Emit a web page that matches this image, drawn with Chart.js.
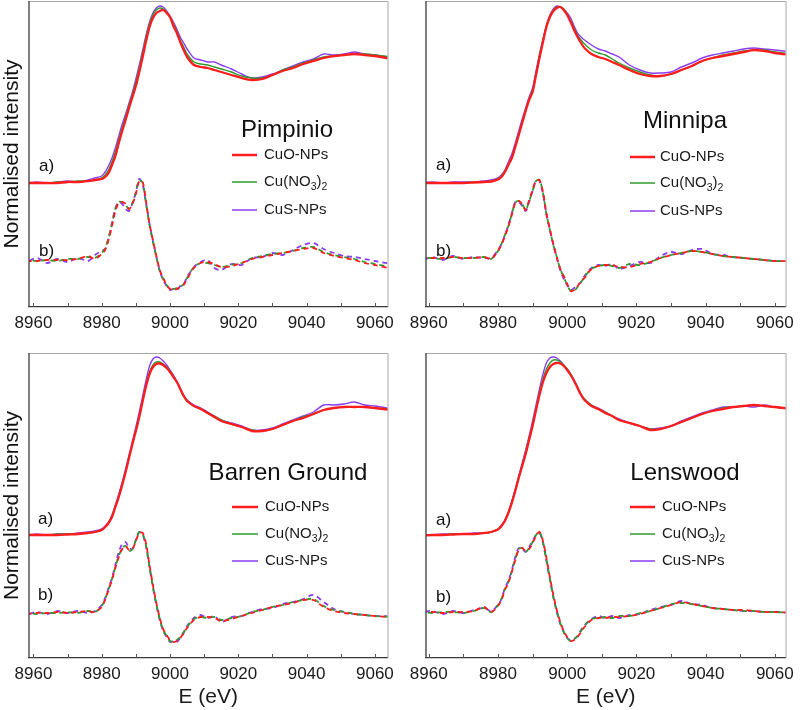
<!DOCTYPE html>
<html>
<head>
<meta charset="utf-8">
<script src="https://cdn.jsdelivr.net/npm/chart.js@4.4.1/dist/chart.umd.min.js"></script>
<style>
  body { margin: 0; background: #fff; width: 800px; height: 710px; position: relative; overflow: hidden; }
  canvas { position: absolute; }
</style>
</head>
<body>
<canvas id="pimpinio" width="400" height="340" style="left:0;top:0"></canvas>
<canvas id="minnipa" width="400" height="340" style="left:400px;top:0"></canvas>
<canvas id="barren" width="400" height="370" style="left:0;top:340px"></canvas>
<canvas id="lenswood" width="400" height="370" style="left:400px;top:340px"></canvas>
<script>
//photon energy (eV), shared by every curve
const energy = [8958, 8961, 8964, 8967, 8970, 8973, 8976, 8978,
  8980, 8981, 8982, 8983, 8984, 8985, 8986, 8987, 8988, 8989, 8990, 8991, 8992, 8993,
  8994, 8995, 8996, 8997, 8998, 8999, 9000, 9001, 9002, 9003, 9004, 9005,
  9007, 9009, 9011, 9013, 9015,
  9018, 9021, 9024, 9027, 9030, 9033, 9036, 9039, 9042, 9045, 9048, 9051, 9054, 9057, 9060, 9065];

const tickValues = [8960, 8980, 9000, 9020, 9040, 9060];
const minorTickValues = [8960, 8970, 8980, 8990, 9000, 9010, 9020, 9030, 9040, 9050, 9060];
const seriesNames = ['CuO-NPs', 'Cu(NO3)2', 'CuS-NPs'];
const siteNames = ['Pimpinio', 'Minnipa', 'Barren Ground', 'Lenswood'];

//a) XANES spectra (offset, normalised)
const pimpXanesCuO = [1.24,1.24,1.24,1.24,1.25,1.25,1.26,1.27,1.28,1.30,1.34,1.42,1.51,1.64,1.76,1.87,1.99,2.10,2.21,2.35,2.50,2.66,2.80,2.89,2.94,2.96,2.97,2.94,2.90,2.81,2.74,2.65,2.57,2.50,2.42,2.40,2.39,2.37,2.35,2.32,2.29,2.27,2.28,2.32,2.36,2.39,2.43,2.46,2.49,2.51,2.52,2.53,2.52,2.51,2.48];
const pimpXanesNO3 = [1.24,1.24,1.24,1.25,1.25,1.26,1.26,1.27,1.29,1.32,1.37,1.45,1.55,1.67,1.79,1.90,2.02,2.13,2.25,2.39,2.54,2.70,2.83,2.92,2.97,2.99,2.98,2.95,2.90,2.83,2.76,2.67,2.60,2.53,2.45,2.43,2.42,2.40,2.38,2.35,2.31,2.29,2.29,2.32,2.37,2.40,2.44,2.47,2.50,2.51,2.52,2.53,2.53,2.52,2.50];
const pimpXanesCuS = [1.24,1.25,1.24,1.25,1.26,1.25,1.27,1.29,1.31,1.35,1.41,1.49,1.59,1.71,1.83,1.93,2.04,2.15,2.28,2.42,2.57,2.72,2.85,2.94,2.99,3.01,3.00,2.96,2.91,2.85,2.78,2.70,2.64,2.58,2.49,2.47,2.45,2.45,2.42,2.38,2.33,2.29,2.30,2.33,2.37,2.41,2.45,2.48,2.53,2.52,2.53,2.55,2.53,2.52,2.49];

const minnXanesCuO = [1.24,1.24,1.24,1.24,1.24,1.245,1.25,1.255,1.275,1.30,1.35,1.42,1.49,1.60,1.72,1.84,1.96,2.07,2.15,2.32,2.49,2.65,2.80,2.90,2.96,2.99,3.00,2.97,2.92,2.85,2.77,2.70,2.64,2.59,2.53,2.50,2.48,2.45,2.42,2.37,2.33,2.31,2.31,2.33,2.37,2.41,2.46,2.49,2.51,2.53,2.55,2.57,2.56,2.54,2.52];
const minnXanesNO3 = [1.24,1.24,1.24,1.24,1.24,1.25,1.25,1.26,1.28,1.31,1.36,1.43,1.50,1.61,1.73,1.85,1.97,2.08,2.17,2.34,2.51,2.67,2.81,2.91,2.97,3.00,3.00,2.98,2.93,2.86,2.79,2.72,2.67,2.63,2.57,2.54,2.52,2.48,2.44,2.39,2.35,2.32,2.31,2.33,2.37,2.41,2.46,2.49,2.52,2.54,2.56,2.57,2.57,2.55,2.53];
const minnXanesCuS = [1.24,1.25,1.24,1.25,1.25,1.25,1.26,1.27,1.29,1.32,1.37,1.45,1.53,1.64,1.76,1.88,1.99,2.10,2.19,2.36,2.53,2.68,2.82,2.92,2.98,3.01,3.00,2.98,2.94,2.89,2.81,2.74,2.70,2.67,2.62,2.58,2.56,2.53,2.50,2.42,2.37,2.34,2.34,2.35,2.40,2.44,2.49,2.52,2.54,2.56,2.58,2.59,2.58,2.57,2.55];

const barrXanesCuO = [1.23,1.23,1.23,1.23,1.235,1.24,1.25,1.26,1.28,1.31,1.35,1.41,1.51,1.61,1.73,1.86,2.00,2.14,2.27,2.41,2.57,2.72,2.84,2.91,2.94,2.945,2.93,2.90,2.86,2.81,2.76,2.69,2.62,2.57,2.52,2.49,2.45,2.41,2.37,2.34,2.31,2.27,2.27,2.29,2.33,2.37,2.40,2.44,2.48,2.50,2.51,2.51,2.51,2.50,2.48];
const barrXanesNO3 = [1.23,1.23,1.23,1.24,1.24,1.24,1.25,1.26,1.28,1.31,1.35,1.42,1.52,1.62,1.74,1.87,2.01,2.15,2.28,2.42,2.58,2.73,2.86,2.93,2.96,2.96,2.94,2.91,2.87,2.82,2.76,2.69,2.62,2.57,2.52,2.49,2.45,2.42,2.38,2.34,2.31,2.28,2.27,2.29,2.33,2.37,2.41,2.44,2.48,2.50,2.51,2.51,2.51,2.50,2.48];
const barrXanesCuS = [1.23,1.24,1.23,1.24,1.24,1.25,1.26,1.27,1.29,1.32,1.36,1.43,1.53,1.64,1.76,1.89,2.03,2.17,2.31,2.46,2.62,2.78,2.92,2.99,3.01,3.00,2.97,2.93,2.88,2.83,2.77,2.70,2.63,2.58,2.53,2.50,2.46,2.42,2.38,2.35,2.32,2.28,2.28,2.30,2.34,2.38,2.42,2.46,2.53,2.53,2.54,2.56,2.53,2.52,2.49];

const lensXanesCuO = [1.225,1.23,1.23,1.235,1.24,1.24,1.25,1.26,1.285,1.32,1.37,1.45,1.55,1.67,1.80,1.92,2.04,2.18,2.32,2.48,2.63,2.76,2.85,2.91,2.94,2.95,2.945,2.92,2.88,2.83,2.77,2.70,2.63,2.58,2.52,2.49,2.45,2.42,2.38,2.35,2.32,2.28,2.29,2.32,2.36,2.40,2.44,2.47,2.49,2.51,2.52,2.53,2.52,2.51,2.49];
const lensXanesNO3 = [1.23,1.23,1.23,1.24,1.24,1.24,1.25,1.26,1.29,1.32,1.38,1.46,1.56,1.68,1.81,1.93,2.06,2.20,2.34,2.50,2.65,2.79,2.89,2.95,2.98,2.98,2.96,2.93,2.89,2.84,2.78,2.71,2.64,2.59,2.53,2.49,2.46,2.42,2.38,2.35,2.32,2.29,2.29,2.32,2.36,2.40,2.44,2.47,2.50,2.51,2.52,2.53,2.52,2.51,2.49];
const lensXanesCuS = [1.23,1.23,1.24,1.24,1.24,1.25,1.25,1.26,1.29,1.33,1.38,1.46,1.57,1.69,1.82,1.95,2.08,2.22,2.37,2.53,2.69,2.84,2.95,3.00,3.01,3.00,2.97,2.93,2.89,2.84,2.78,2.71,2.64,2.59,2.53,2.50,2.46,2.42,2.39,2.35,2.32,2.29,2.30,2.32,2.37,2.41,2.45,2.48,2.51,2.51,2.52,2.51,2.53,2.51,2.49];

//b) first derivatives (offset)
const pimpDerivCuO = [0.46,0.46,0.47,0.47,0.47,0.48,0.51,0.48,0.53,0.57,0.67,0.81,0.96,1.04,1.05,1.03,0.98,1.03,1.13,1.26,1.25,1.05,0.83,0.67,0.51,0.37,0.29,0.22,0.18,0.17,0.18,0.20,0.22,0.28,0.39,0.44,0.45,0.43,0.40,0.41,0.44,0.48,0.50,0.52,0.54,0.56,0.58,0.59,0.54,0.51,0.49,0.47,0.44,0.42,0.38];
const pimpDerivNO3 = [0.47,0.46,0.47,0.46,0.48,0.48,0.50,0.49,0.54,0.59,0.69,0.83,0.98,1.05,1.05,1.02,0.98,1.04,1.14,1.27,1.24,1.03,0.82,0.65,0.50,0.36,0.28,0.22,0.18,0.18,0.19,0.20,0.23,0.29,0.40,0.44,0.44,0.42,0.40,0.42,0.44,0.49,0.51,0.53,0.54,0.56,0.59,0.60,0.55,0.52,0.50,0.48,0.45,0.43,0.40];
const pimpDerivCuS = [0.45,0.49,0.44,0.48,0.45,0.49,0.46,0.52,0.56,0.58,0.69,0.84,0.99,1.05,1.03,0.98,0.96,1.04,1.15,1.28,1.22,1.03,0.83,0.66,0.50,0.36,0.27,0.21,0.17,0.18,0.17,0.21,0.23,0.30,0.40,0.45,0.47,0.39,0.37,0.43,0.42,0.49,0.50,0.54,0.52,0.57,0.62,0.64,0.58,0.54,0.51,0.50,0.48,0.46,0.43];

const minnDerivCuO = [0.49,0.49,0.49,0.50,0.49,0.49,0.50,0.48,0.56,0.62,0.71,0.80,0.92,1.04,1.06,1.03,0.97,1.07,1.17,1.26,1.27,1.15,0.94,0.78,0.63,0.50,0.38,0.31,0.23,0.16,0.17,0.21,0.25,0.29,0.38,0.41,0.42,0.42,0.40,0.40,0.43,0.45,0.49,0.52,0.54,0.56,0.55,0.53,0.51,0.50,0.49,0.48,0.47,0.46,0.46];
const minnDerivNO3 = [0.49,0.49,0.48,0.50,0.49,0.49,0.50,0.48,0.56,0.63,0.72,0.81,0.93,1.04,1.06,1.03,0.97,1.06,1.16,1.26,1.27,1.14,0.93,0.77,0.62,0.50,0.38,0.30,0.22,0.16,0.16,0.20,0.25,0.30,0.38,0.41,0.42,0.41,0.39,0.43,0.42,0.45,0.49,0.52,0.54,0.56,0.55,0.53,0.51,0.50,0.49,0.48,0.47,0.46,0.46];
const minnDerivCuS = [0.46,0.50,0.47,0.51,0.48,0.50,0.49,0.49,0.57,0.63,0.72,0.82,0.94,1.05,1.05,1.01,0.96,1.05,1.16,1.27,1.26,1.13,0.92,0.77,0.62,0.49,0.37,0.28,0.22,0.17,0.19,0.22,0.25,0.31,0.39,0.42,0.41,0.43,0.38,0.41,0.45,0.44,0.51,0.55,0.53,0.57,0.58,0.53,0.52,0.50,0.49,0.48,0.47,0.46,0.46];

const barrDerivCuO = [0.44,0.45,0.45,0.46,0.45,0.46,0.47,0.46,0.51,0.58,0.68,0.78,0.90,1.01,1.09,1.12,1.08,1.09,1.17,1.25,1.25,1.14,0.93,0.73,0.55,0.40,0.29,0.23,0.18,0.16,0.17,0.20,0.25,0.30,0.38,0.41,0.41,0.40,0.37,0.39,0.42,0.45,0.48,0.51,0.53,0.55,0.58,0.58,0.51,0.47,0.45,0.44,0.43,0.42,0.41];
const barrDerivNO3 = [0.45,0.44,0.45,0.45,0.46,0.45,0.47,0.46,0.52,0.59,0.69,0.79,0.91,1.02,1.10,1.12,1.07,1.09,1.18,1.26,1.24,1.12,0.91,0.71,0.54,0.39,0.28,0.22,0.17,0.16,0.18,0.21,0.26,0.31,0.39,0.41,0.40,0.41,0.38,0.40,0.42,0.46,0.48,0.51,0.53,0.56,0.58,0.59,0.52,0.48,0.46,0.44,0.43,0.42,0.41];
const barrDerivCuS = [0.43,0.46,0.44,0.47,0.45,0.47,0.45,0.47,0.53,0.60,0.70,0.80,0.93,1.06,1.14,1.16,1.10,1.09,1.18,1.26,1.23,1.11,0.91,0.71,0.53,0.38,0.27,0.21,0.16,0.17,0.16,0.20,0.25,0.32,0.40,0.43,0.40,0.42,0.36,0.41,0.42,0.46,0.49,0.50,0.54,0.56,0.59,0.63,0.56,0.49,0.46,0.44,0.43,0.42,0.42];

const lensDerivCuO = [0.46,0.46,0.45,0.46,0.46,0.47,0.51,0.46,0.52,0.58,0.68,0.75,0.86,0.98,1.08,1.10,1.07,1.09,1.15,1.22,1.26,1.17,1.00,0.81,0.63,0.48,0.36,0.27,0.21,0.17,0.18,0.21,0.26,0.31,0.38,0.40,0.40,0.41,0.41,0.42,0.44,0.47,0.50,0.53,0.56,0.54,0.52,0.50,0.49,0.48,0.48,0.47,0.46,0.46,0.45];
const lensDerivNO3 = [0.46,0.45,0.46,0.46,0.45,0.47,0.50,0.46,0.53,0.59,0.69,0.76,0.87,0.99,1.09,1.10,1.06,1.10,1.16,1.23,1.26,1.16,0.98,0.79,0.61,0.47,0.35,0.26,0.20,0.17,0.19,0.22,0.27,0.32,0.39,0.40,0.41,0.40,0.42,0.42,0.45,0.47,0.50,0.54,0.55,0.54,0.52,0.50,0.49,0.48,0.47,0.47,0.46,0.46,0.45];
const lensDerivCuS = [0.46,0.47,0.44,0.47,0.45,0.48,0.50,0.47,0.53,0.59,0.70,0.77,0.88,1.01,1.10,1.09,1.06,1.11,1.17,1.23,1.25,1.15,0.97,0.79,0.61,0.46,0.34,0.26,0.20,0.18,0.19,0.22,0.28,0.33,0.39,0.42,0.40,0.42,0.40,0.43,0.44,0.48,0.51,0.53,0.57,0.54,0.53,0.50,0.49,0.48,0.47,0.47,0.46,0.46,0.45];

const FONT = "'Liberation Sans', Arial, sans-serif";
const colors = ['#ff1c1c', '#2f9a2f', '#8b3cf0'];
const solidWidths = [2.3, 1.4, 1.4];
const dashOffsets = [0, 3, 6];

//layout of each panel on its own canvas
const panels = [
  { id: 'pimpinio', site: 0, xanes: [pimpXanesCuO, pimpXanesNO3, pimpXanesCuS], deriv: [pimpDerivCuO, pimpDerivNO3, pimpDerivCuS],
    pad: { left: 29, right: 6, top: 1 }, axisH: 33, xMin: 8958.7, xMax: 9063.7, yMax: 3.06, yTitle: true, xTitle: false,
    name: [287, 137], legend: { x0: 232, x1: 257, tx: 264, rows: [155, 182, 210] }, ab: [39, 166, 251] },
  { id: 'minnipa', site: 1, xanes: [minnXanesCuO, minnXanesNO3, minnXanesCuS], deriv: [minnDerivCuO, minnDerivNO3, minnDerivCuS],
    pad: { left: 26, right: 9, top: 1 }, axisH: 33, xMin: 8959.2, xMax: 9063.1, yMax: 3.06, yTitle: false, xTitle: false,
    name: [285, 128], legend: { x0: 230, x1: 255, tx: 260, rows: [157, 183, 211] }, ab: [36, 165, 251] },
  { id: 'barren', site: 2, xanes: [barrXanesCuO, barrXanesNO3, barrXanesCuS], deriv: [barrDerivCuO, barrDerivNO3, barrDerivCuS],
    pad: { left: 29, right: 6, top: 13 }, axisH: 52, xMin: 8958.7, xMax: 9063.7, yMax: 3.05, yTitle: true, xTitle: true,
    name: [288, 140], legend: { x0: 232, x1: 258, tx: 265, rows: [167, 194, 221] }, ab: [38, 179, 255] },
  { id: 'lenswood', site: 3, xanes: [lensXanesCuO, lensXanesNO3, lensXanesCuS], deriv: [lensDerivCuO, lensDerivNO3, lensDerivCuS],
    pad: { left: 26, right: 9, top: 13 }, axisH: 52, xMin: 8959.2, xMax: 9063.1, yMax: 3.05, yTitle: false, xTitle: true,
    name: [285, 140], legend: { x0: 230, x1: 255, tx: 262, rows: [167, 194, 221] }, ab: [36, 180, 257] }
];

function points(ys) {
  return ys.map((y, i) => ({ x: energy[i], y: y }));
}

//draws text where digits become subscripts, e.g. Cu(NO3)2
function drawFormula(ctx, text, x, y) {
  const parts = text.split(/(\d)/).filter(p => p.length);
  let cx = x;
  parts.forEach(p => {
    const sub = /^\d$/.test(p);
    ctx.font = (sub ? '10.5px ' : '15px ') + FONT;
    ctx.fillText(p, cx, sub ? y + 5 : y);
    cx += ctx.measureText(p).width;
  });
}

function decorPlugin(p) {
  return {
    id: 'decor',
    afterDraw(chart) {
      const ctx = chart.ctx;
      const a = chart.chartArea;
      const xs = chart.scales.x;
      ctx.save();
      //frame
      ctx.lineWidth = 1;
      ctx.strokeStyle = '#a6a6a6';
      ctx.beginPath();
      ctx.moveTo(a.left, a.top + 0.5); ctx.lineTo(a.right + 0.5, a.top + 0.5); ctx.lineTo(a.right + 0.5, a.bottom);
      ctx.stroke();
      ctx.strokeStyle = '#3a3a3a';
      ctx.lineWidth = 1.3;
      ctx.beginPath();
      ctx.moveTo(a.left, a.top); ctx.lineTo(a.left, a.bottom);
      ctx.stroke();
      //inner minor ticks
      ctx.lineWidth = 1;
      ctx.strokeStyle = '#555';
      minorTickValues.forEach(v => {
        const px = Math.round(xs.getPixelForValue(v)) + 0.5;
        ctx.beginPath(); ctx.moveTo(px, a.bottom); ctx.lineTo(px, a.bottom - 4); ctx.stroke();
      });
      //site name
      ctx.fillStyle = '#111';
      ctx.font = '24px ' + FONT;
      ctx.textAlign = 'center';
      ctx.textBaseline = 'alphabetic';
      ctx.fillText(siteNames[p.site], p.name[0], p.name[1]);
      //legend
      ctx.textAlign = 'left';
      ctx.textBaseline = 'middle';
      seriesNames.forEach((s, i) => {
        const y = p.legend.rows[i];
        ctx.strokeStyle = colors[i];
        ctx.lineWidth = i === 0 ? 2.5 : 1.5;
        ctx.beginPath(); ctx.moveTo(p.legend.x0, y); ctx.lineTo(p.legend.x1, y); ctx.stroke();
        ctx.fillStyle = '#1a1a1a';
        drawFormula(ctx, s, p.legend.tx, y);
      });
      //a) b) labels
      ctx.fillStyle = '#111';
      ctx.font = '17px ' + FONT;
      ctx.fillText('a)', p.ab[0], p.ab[1]);
      ctx.fillText('b)', p.ab[0], p.ab[2]);
      //y title
      if (p.yTitle) {
        ctx.translate(a.left - 17, (a.top + a.bottom) / 2);
        ctx.rotate(-Math.PI / 2);
        ctx.textAlign = 'center';
        ctx.font = '21px ' + FONT;
        ctx.fillText('Normalised intensity', 0, 0);
      }
      ctx.restore();
    }
  };
}

panels.forEach(p => {
  const datasets = [];
  p.xanes.forEach((ys, i) => {
    datasets.push({
      label: seriesNames[i] + ' a', data: points(ys), borderColor: colors[i],
      borderWidth: solidWidths[i], pointRadius: 0, tension: 0.3, fill: false
    });
  });
  p.deriv.forEach((ys, i) => {
    datasets.push({
      label: seriesNames[i] + ' b', data: points(ys), borderColor: colors[i],
      borderWidth: 1.8, borderDash: [5, 4], borderDashOffset: dashOffsets[i],
      pointRadius: 0, tension: 0.3, fill: false
    });
  });

  new Chart(document.getElementById(p.id).getContext('2d'), {
    type: 'line',
    data: { datasets: datasets },
    options: {
      responsive: false,
      animation: false,
      events: [],
      layout: { padding: { left: p.pad.left, right: p.pad.right, top: p.pad.top, bottom: 0 } },
      plugins: { legend: { display: false }, tooltip: { enabled: false } },
      scales: {
        x: {
          type: 'linear',
          min: p.xMin,
          max: p.xMax,
          grid: { display: false, drawTicks: false },
          border: { display: true, color: '#3a3a3a', width: 1.3 },
          afterBuildTicks: s => { s.ticks = tickValues.map(v => ({ value: v })); },
          afterFit: s => { s.height = p.axisH; },
          ticks: {
            padding: 6, color: '#1a1a1a', maxRotation: 0, autoSkip: false,
            font: { family: FONT, size: 17 },
            callback: v => String(v)
          },
          title: {
            display: p.xTitle, text: 'E (eV)', color: '#1a1a1a',
            font: { family: FONT, size: 21 }, padding: { top: 0, bottom: 0 }
          }
        },
        y: { display: false, min: 0, max: p.yMax }
      }
    },
    plugins: [decorPlugin(p)]
  });
});
</script>
</body>
</html>
